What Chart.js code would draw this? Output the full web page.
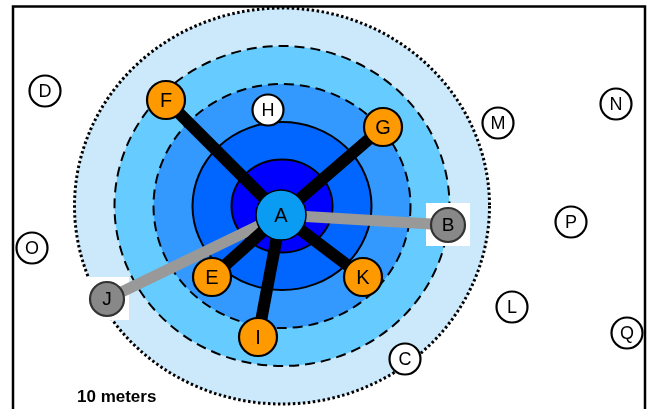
<!DOCTYPE html>
<html>
<head>
<meta charset="utf-8">
<script src="https://cdn.jsdelivr.net/npm/chart.js@4.4.1/dist/chart.umd.min.js"></script>
<style>
body{margin:0;background:#fff;}
#wrap{width:649px;height:409px;}
</style>
</head>
<body>
<div id="wrap"><canvas id="netChart" width="649" height="409"></canvas></div>
<script>
// node positions in map units (1 unit = 10 px on the original sketch)
const nodeNames = ["A","B","C","D","E","F","G","H","I","J","K","L","M","N","O","P","Q"];
const nodeX = [28.1, 44.8, 40.5, 4.5, 21.2, 16.6, 38.3, 26.8, 25.8, 10.7, 36.3, 51.2, 49.8, 61.6, 3.2, 57.1, 62.7];
const nodeY = [21.5, 22.5, 35.9, 9.1, 27.7, 10.0, 12.7, 11.0, 33.7, 29.9, 27.7, 30.7, 12.3, 10.4, 24.8, 22.2, 33.3];
const nodeKind = ["hub","weak","none","none","strong","strong","strong","none","strong","weak","strong","none","none","none","none","none","none"];

const edgeFrom = ["A","A","A","A","A","A","A"];
const edgeTo = ["F","G","E","I","K","B","J"];
const edgeKind = ["strong","strong","strong","strong","strong","weak","weak"];

// distance zones around A
const ringCenter = [28.2, 20.6];
const ringRx = [20.75, 16.75, 12.85, 8.95, 5.05];
const ringRy = [19.8, 16.0, 12.2, 8.4, 4.65];

const scaleText = "10 meters";

// styles
const ringFill = ["#cbe9fb", "#66ccff", "#3399ff", "#0066ff", "#0000ff"];
const ringDash = [[2.5,2.5], [10,6], [10,6], [], []];
const ringWidth = [3, 2, 2, 2, 2];
const nodeStyle = {
    hub:    {fill: "#0a9cf2", border: "#000", radius: 25, font: "20px"},
    strong: {fill: "#ff9900", border: "#000", radius: 19, font: "20px"},
    weak:   {fill: "#888888", border: "#333", radius: 17, font: "19px"},
    none:   {fill: "#ffffff", border: "#000", radius: 15.5, font: "18px"}
};
const edgeStyle = {strong: "#000000", weak: "#999999"};

function nodeIndex(name){
    return nodeNames.indexOf(name);
}

const nodePoints = nodeNames.map((n, i) => ({x: nodeX[i], y: nodeY[i]}));

let datasets = [];

datasets.push({
    label: "nodes",
    data: nodePoints,
    pointRadius: nodeKind.map(k => nodeStyle[k].radius),
    pointBackgroundColor: nodeKind.map(k => nodeStyle[k].fill),
    pointBorderColor: nodeKind.map(k => nodeStyle[k].border),
    pointBorderWidth: nodeKind.map(k => k == "hub" ? 1.5 : 2.2),
    showLine: false,
    clip: false
});

edgeFrom.forEach((from, i) => {
    const a = nodeIndex(from);
    const b = nodeIndex(edgeTo[i]);
    datasets.push({
        label: from + "-" + edgeTo[i],
        data: [nodePoints[a], nodePoints[b]],
        showLine: true,
        borderColor: edgeStyle[edgeKind[i]],
        borderWidth: edgeKind[i] == "strong" ? 12 : 11,
        pointRadius: 0,
        clip: false
    });
});

const ringPlugin = {
    id: "rings",
    beforeDatasetsDraw(chart){
        const ctx = chart.ctx;
        const xs = chart.scales.x, ys = chart.scales.y;
        const cx = xs.getPixelForValue(ringCenter[0]);
        const cy = ys.getPixelForValue(ringCenter[1]);

        ringRx.forEach((rx, i) => {
            const px = Math.abs(xs.getPixelForValue(ringCenter[0] + rx) - cx);
            const py = Math.abs(ys.getPixelForValue(ringCenter[1] + ringRy[i]) - cy);
            ctx.save();
            ctx.beginPath();
            ctx.ellipse(cx, cy, px, py, 0, 0, Math.PI * 2);
            ctx.fillStyle = ringFill[i];
            ctx.fill();
            ctx.setLineDash(ringDash[i]);
            ctx.lineWidth = ringWidth[i];
            ctx.strokeStyle = "#000";
            ctx.stroke();
            ctx.restore();
        });

        // white patch behind the grey nodes
        ctx.save();
        ctx.fillStyle = "#ffffff";
        nodeKind.forEach((k, i) => {
            if(k != "weak") return;
            const px = xs.getPixelForValue(nodeX[i]);
            const py = ys.getPixelForValue(nodeY[i]);
            ctx.fillRect(px - 22, py - 22, 44, 43);
        });
        ctx.restore();
    },
    afterDatasetsDraw(chart){
        const ctx = chart.ctx;
        const xs = chart.scales.x, ys = chart.scales.y;

        ctx.save();
        ctx.textAlign = "center";
        ctx.textBaseline = "middle";
        ctx.fillStyle = "#000";
        nodeNames.forEach((n, i) => {
            ctx.font = nodeStyle[nodeKind[i]].font + " 'Liberation Sans', Arial, sans-serif";
            ctx.fillText(n, xs.getPixelForValue(nodeX[i]), ys.getPixelForValue(nodeY[i]) + 1);
        });

        ctx.font = "bold 17px 'Liberation Sans', Arial, sans-serif";
        ctx.textAlign = "left";
        ctx.textBaseline = "alphabetic";
        ctx.fillText(scaleText, xs.getPixelForValue(7.7), ys.getPixelForValue(40.2));

        // frame
        ctx.strokeStyle = "#000";
        ctx.lineWidth = 2.5;
        ctx.strokeRect(13, 6.5, 632, 410);
        ctx.restore();
    }
};

new Chart("netChart", {
    type: "scatter",
    data: {datasets: datasets},
    options: {
        responsive: false,
        animation: false,
        layout: {padding: 0, autoPadding: false},
        scales: {
            x: {type: "linear", min: 0, max: 64.9, display: false},
            y: {type: "linear", min: 0, max: 40.9, reverse: true, display: false}
        },
        plugins: {
            legend: {display: false},
            tooltip: {enabled: false}
        }
    },
    plugins: [ringPlugin]
});
</script>
</body>
</html>
